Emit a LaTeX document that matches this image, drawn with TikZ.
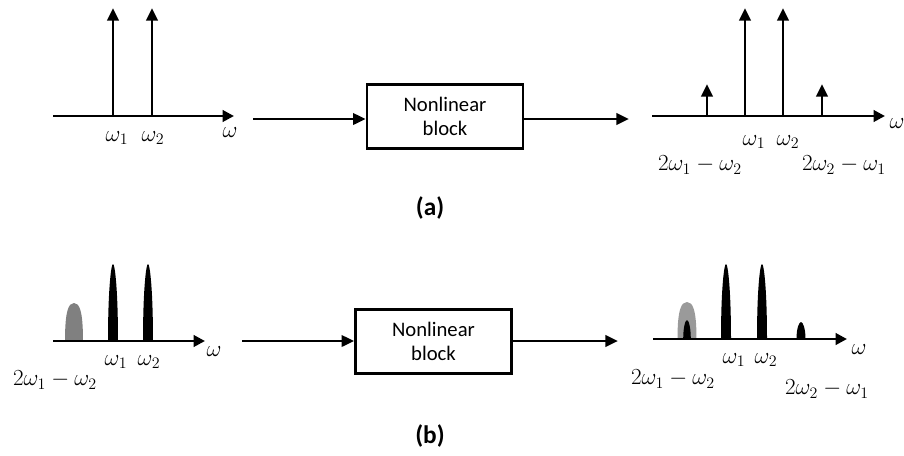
\documentclass[tikz,border=0pt]{standalone}
\usepackage{fontspec}
\setmainfont{Carlito}
\usetikzlibrary{arrows.meta}
\newcommand{\mypeak}[5]{% cx, base y, half width, top y, colour
  \fill[#5] ({#1-#3},#2) .. controls ({#1-#3},{#4+0.35*(#2-#4)}) and ({#1-0.4*#3},#4) .. (#1,#4)
    .. controls ({#1+0.4*#3},#4) and ({#1+#3},{#4+0.35*(#2-#4)}) .. ({#1+#3},#2) -- cycle;}
\newcommand{\mybump}[5]{% rounder bump
  \fill[#5] ({#1-#3},#2) .. controls ({#1-#3},{#4+0.2*(#2-#4)}) and ({#1-0.6*#3},#4) .. (#1,#4)
    .. controls ({#1+0.6*#3},#4) and ({#1+#3},{#4+0.2*(#2-#4)}) .. ({#1+#3},#2) -- cycle;}
\begin{document}
\begin{tikzpicture}[x=0.75pt,y=-0.75pt,
  ln/.style={line width=2.1pt},
  axis/.style={ln,-{Triangle[length=8.5pt,width=8.5pt]}},
  spike/.style={ln,-{Triangle[length=9.5pt,width=8.5pt]}},
  flow/.style={ln,-{Triangle[length=9.5pt,width=8.5pt]}},
  block/.style={draw,line width=2pt,minimum width=117pt,minimum height=48pt,inner sep=0pt,
    align=center,font=\fontsize{15.5}{18.5}\selectfont},
  lbl/.style={inner sep=0pt,font=\fontsize{18}{21}\selectfont},
  captxt/.style={inner sep=0pt,font=\fontsize{19}{22}\selectfont\bfseries}]
\useasboundingbox (0,0) rectangle (904,455);
\definecolor{bumpgray}{RGB}{128,128,128}

% ---------------- (a) ----------------
\coordinate (a0) at (53,116);  \coordinate (a1) at (234,116);
\draw[axis] (a0) -- (a1);
\coordinate (s1b) at (113,116); \coordinate (s1t) at (113,8);
\coordinate (s2b) at (152,116); \coordinate (s2t) at (152,8);
\draw[spike] (s1b) -- (s1t);
\draw[spike] (s2b) -- (s2t);
\node[lbl] (aw1) at (117,138) {$\omega_1$};
\node[lbl] (aw2) at (153,138) {$\omega_2$};
\node[lbl] (aw) at (230,133) {$\omega$};

\node[block] (boxA) at (445,116.5) {Nonlinear\\block};
\coordinate (ainL) at (253,119);
\coordinate (aoutR) at (629,119);
\draw[flow] (ainL) -- (ainL -| boxA.west);
\draw[flow] (aoutR -| boxA.east) -- (aoutR);

\coordinate (b0) at (652,116);  \coordinate (b1) at (885,116);
\draw[axis] (b0) -- (b1);
\coordinate (r1b) at (707,116); \coordinate (r1t) at (707,84);
\coordinate (r2b) at (745,116); \coordinate (r2t) at (745,8);
\coordinate (r3b) at (783,116); \coordinate (r3t) at (783,8);
\coordinate (r4b) at (822,116); \coordinate (r4t) at (822,84);
\draw[spike] (r1b) -- (r1t);
\draw[spike] (r2b) -- (r2t);
\draw[spike] (r3b) -- (r3t);
\draw[spike] (r4b) -- (r4t);
\node[lbl] (rw1) at (754,142) {$\omega_1$};
\node[lbl] (rw2) at (788,142) {$\omega_2$};
\node[lbl] (rim1) at (700,165) {$2\omega_1-\omega_2$};
\node[lbl] (rim2) at (844,165) {$2\omega_2-\omega_1$};
\node[lbl] (rw) at (897,124) {$\omega$};

\node[captxt] (capA) at (430,208) {(a)};

% ---------------- (b) ----------------
\coordinate (c0) at (53,341);  \coordinate (c1) at (205,341);
\mybump{74}{341}{9}{303}{bumpgray}
\mypeak{113}{341}{5}{264}{black}
\mypeak{148}{341}{5}{264}{black}
\draw[axis] (c0) -- (c1);
\node[lbl] (cw1) at (116,362) {$\omega_1$};
\node[lbl] (cw2) at (149,362) {$\omega_2$};
\node[lbl] (cim) at (55,380) {$2\omega_1-\omega_2$};
\node[lbl] (cw) at (214,352) {$\omega$};

\node[block] (boxB) at (433.5,341.5) {Nonlinear\\block};
\coordinate (binL) at (242,341);
\coordinate (boutR) at (618,341);
\draw[flow] (binL) -- (binL -| boxB.west);
\draw[flow] (boutR -| boxB.east) -- (boutR);

\coordinate (d0) at (653,339);  \coordinate (d1) at (847,339);
\mybump{687}{339}{9.5}{302}{bumpgray!80}
\mypeak{687}{339}{3.8}{320}{black}
\mypeak{726}{339}{5}{264}{black}
\mypeak{762}{339}{5}{264}{black}
\mypeak{801}{339}{4.5}{322}{black}
\draw[axis] (d0) -- (d1);
\node[lbl] (dw1) at (734,360) {$\omega_1$};
\node[lbl] (dw2) at (766,360) {$\omega_2$};
\node[lbl] (dim1) at (673,379) {$2\omega_1-\omega_2$};
\node[lbl] (dim2) at (827,389) {$2\omega_2-\omega_1$};
\node[lbl] (dw) at (859,350) {$\omega$};

\node[captxt] (capB) at (430,436) {(b)};
\end{tikzpicture}
\end{document}
